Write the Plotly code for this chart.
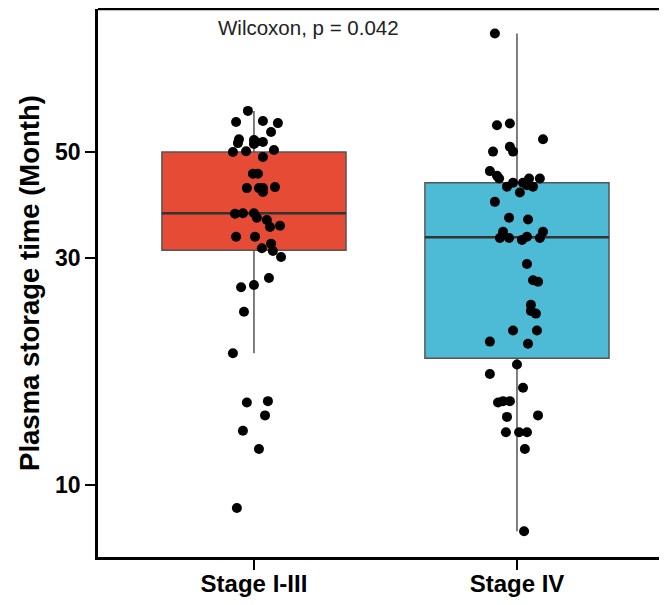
import plotly.graph_objects as go

# ---------------- data ----------------
categories = ["Stage I-III", "Stage IV"]
tick_vals_y = [10, 30, 50]
tick_text_y = ["10", "30", "50"]

# box statistics
q1_vals = [31.1, 18.45]
median_vals = [37.2, 33.1]
q3_vals = [50.0, 43.1]
lower_vals = [18.9, 8.0]
upper_vals = [61.0, 88.7]

# points of each group (months) and their horizontal jitter (category units)
stage13_values = [61.0, 57.8, 58.1, 57.5, 55.1, 53.2, 52.2, 53.0, 52.5, 52.5,
                  52.0, 50.0, 50.2, 50.5, 48.8, 45.0, 45.0, 42.0, 42.0, 42.0,
                  41.2, 42.2, 37.1, 37.2, 37.2, 36.4, 36.0, 34.8, 35.0, 33.2,
                  33.2, 31.4, 32.1, 31.0, 30.1, 27.2, 26.0, 26.3, 23.1, 18.9,
                  14.9, 15.0, 14.0, 13.0, 11.9, 8.95]
stage13_jitter = [-0.023, -0.068, 0.034, 0.091, 0.065, -0.057, -0.061, 0.0, 0.008, 0.034,
                  0.0, -0.080, -0.030, 0.076, 0.034, -0.004, 0.015, -0.027, 0.019, 0.034,
                  0.034, 0.080, -0.072, -0.042, 0.0, 0.011, 0.049, 0.061, 0.099, -0.068,
                  0.004, 0.030, 0.065, 0.072, 0.103, 0.057, -0.049, 0.0, -0.038, -0.080,
                  -0.027, 0.053, 0.042, -0.042, 0.019, -0.065]

stage4_values = [88.7, 56.9, 57.4, 53.2, 50.1, 51.3, 50.1, 45.6, 44.6, 44.0,
                 42.3, 43.1, 43.1, 44.0, 42.3, 44.0, 42.6, 41.1, 39.3, 36.4,
                 36.1, 34.0, 33.0, 33.0, 32.7, 33.2, 33.0, 34.0, 29.1, 26.9,
                 26.7, 23.9, 23.2, 22.9, 21.1, 21.1, 20.0, 19.8, 17.9, 17.1,
                 16.0, 14.9, 15.0, 15.0, 13.9, 14.0, 12.9, 12.9, 12.9, 11.9,
                 8.0]
stage4_jitter = [-0.084, -0.076, -0.027, 0.099, -0.091, -0.027, -0.015, -0.103, -0.076, -0.068,
                 -0.038, -0.015, 0.023, 0.046, 0.061, 0.087, 0.038, 0.011, -0.084, -0.030,
                 0.042, -0.053, -0.065, -0.030, 0.019, 0.038, 0.087, 0.099, 0.038, 0.061,
                 0.080, 0.053, 0.053, 0.072, -0.015, 0.076, -0.103, 0.042, 0.0, -0.103,
                 0.023, -0.072, -0.053, -0.027, -0.038, 0.080, -0.042, 0.008, 0.038, 0.030,
                 0.027]

p_label = "Wilcoxon, p = 0.042"
box_colors = ["#E64B35", "#4DBBD5"]
BOX_WIDTH = 0.7

FONT = "Liberation Sans, Arial, sans-serif"

fig = go.Figure()

for i, cat in enumerate(categories):
    fig.add_trace(go.Box(
        x=[i],
        q1=[q1_vals[i]], median=[median_vals[i]], q3=[q3_vals[i]],
        lowerfence=[lower_vals[i]], upperfence=[upper_vals[i]],
        width=BOX_WIDTH, whiskerwidth=0,
        fillcolor=box_colors[i],
        line=dict(color="#555555", width=1.5),
        boxpoints=False, hoverinfo="skip", showlegend=False,
    ))
    # darker, thicker median line (ggplot style)
    fig.add_trace(go.Scatter(
        x=[i - BOX_WIDTH / 2, i + BOX_WIDTH / 2],
        y=[median_vals[i], median_vals[i]],
        mode="lines", line=dict(color="#333333", width=2.5),
        showlegend=False, hoverinfo="skip",
    ))

groups = [(stage13_values, stage13_jitter), (stage4_values, stage4_jitter)]
for i, (vals, jit) in enumerate(groups):
    fig.add_trace(go.Scatter(
        x=[i + j for j in jit], y=vals, mode="markers",
        marker=dict(color="black", size=10, line=dict(width=0)),
        showlegend=False, hoverinfo="skip",
    ))

fig.add_annotation(
    text=p_label, xref="paper", yref="paper", x=0.376, y=0.967,
    showarrow=False, font=dict(family=FONT, size=20.5, color="#222222"),
    xanchor="center", yanchor="middle",
)

# top border drawn as a shape so no right-hand border appears
fig.add_shape(type="line", xref="paper", yref="paper", x0=0, x1=1.0, y0=1, y1=1,
              line=dict(color="black", width=2.5), layer="above")

# page body adds an 8px offset; figure is sized so the page does not scroll
fig.update_layout(
    width=651, height=589,
    margin=dict(l=90, r=0, t=1, b=40, pad=0, autoexpand=False),
    paper_bgcolor="white", plot_bgcolor="white",
    font=dict(family=FONT),
    showlegend=False,
)

fig.update_xaxes(
    range=[-0.593, 1.540],
    tickvals=[0, 1], ticktext=categories,
    tickfont=dict(family=FONT, size=24, color="black", weight="bold"),
    showgrid=False, zeroline=False, automargin=False,
    showline=True, linecolor="black", linewidth=2.5, mirror=False,
    ticks="outside", ticklen=10, tickwidth=2, tickcolor="black",
    ticklabelstandoff=-7,
)

fig.update_yaxes(
    type="log", range=[0.8489, 1.9992],
    tickvals=tick_vals_y, ticktext=tick_text_y,
    tickfont=dict(family=FONT, size=23, color="black", weight="bold"),
    showgrid=False, zeroline=False, automargin=False,
    showline=True, linecolor="black", linewidth=2.5, mirror=False,
    ticks="outside", ticklen=10, tickwidth=2, tickcolor="black",
    title=dict(text="Plasma storage time (Month)",
               font=dict(family=FONT, size=27.5, color="black", weight="bold"),
               standoff=8),
)

fig.write_html("out.html")
